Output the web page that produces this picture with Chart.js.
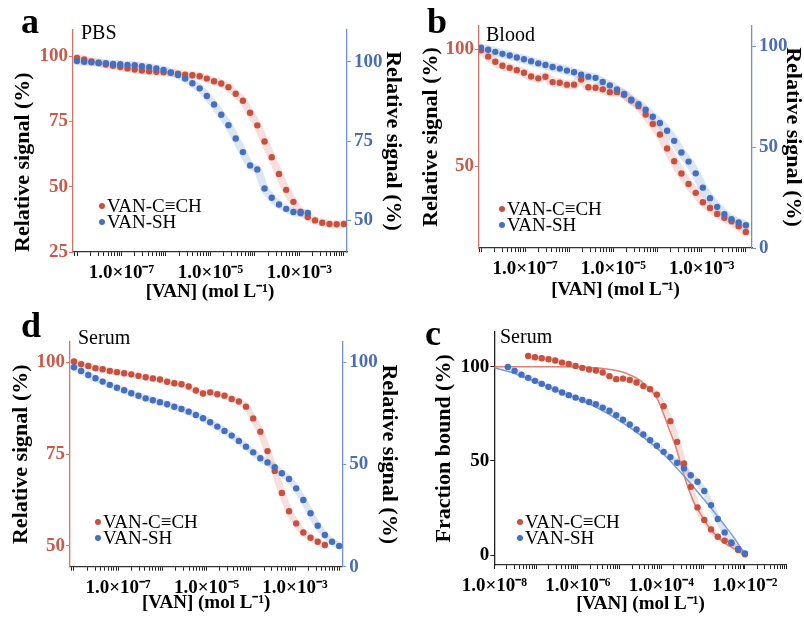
<!DOCTYPE html>
<html>
<head>
<meta charset="utf-8">
<script src="https://cdn.jsdelivr.net/npm/chart.js@4.4.0/dist/chart.umd.min.js"></script>
<style>
  body { margin: 0; background: #fff; width: 804px; height: 617px; position: relative; overflow: hidden; }
  canvas { position: absolute; }
  .t { position: absolute; font-family: "Liberation Serif", "Times New Roman", serif; line-height: 1; white-space: nowrap; color: #000; }
  .letter { font-size: 36px; font-weight: bold; }
  .medium { font-size: 20px; }
  .leg { font-size: 19px; }
  .dot { display: inline-block; width: 6px; height: 6px; border-radius: 50%; margin-right: 2px; vertical-align: 3px; }
</style>
</head>
<body>
<canvas id="chartA" width="404" height="305" style="left:0;top:0"></canvas>
<canvas id="chartB" width="404" height="305" style="left:400px;top:0"></canvas>
<canvas id="chartD" width="400" height="307" style="left:0;top:310px"></canvas>
<canvas id="chartC" width="404" height="307" style="left:400px;top:310px"></canvas>

<div class="t letter" style="left:21px;top:3px">a</div>
<div class="t letter" style="left:427px;top:3px">b</div>
<div class="t letter" style="left:21px;top:307px">d</div>
<div class="t letter" style="left:425px;top:315px">c</div>

<div class="t medium" style="left:81px;top:22px">PBS</div>
<div class="t medium" style="left:486px;top:24px">Blood</div>
<div class="t medium" style="left:78px;top:327px">Serum</div>
<div class="t medium" style="left:500px;top:326px">Serum</div>

<div id="legends"></div>

<script>
// log10 of [VAN] for the dilution series shared by all panels
const concExp = [-8.000, -7.838, -7.676, -7.514, -7.351, -7.189, -7.027, -6.865, -6.703, -6.541,
  -6.378, -6.216, -6.054, -5.892, -5.730, -5.568, -5.405, -5.243, -5.081, -4.919,
  -4.757, -4.595, -4.432, -4.270, -4.108, -3.946, -3.784, -3.622, -3.459, -3.297,
  -3.135, -2.973, -2.811, -2.649, -2.486, -2.324, -2.162, -2.000];

// a: PBS
const pbsAlkyne = [99.3, 98.7, 98.0, 97.5, 96.8, 96.3, 95.8, 95.3, 94.9, 94.5, 94.2, 94.0, 93.8, 93.6, 93.3,
  92.9, 92.7, 92.3, 91.4, 90.4, 89.5, 88.1, 85.6, 82.9, 78.3, 73.5, 67.3, 61.3, 54.9, 48.8,
  44.2, 40.4, 38.4, 37.1, 36.2, 35.7, 35.6, 35.7];
const pbsThiol = [100.2, 100.0, 99.8, 99.6, 99.5, 99.3, 99.2, 99.0, 98.9, 98.6, 98.3, 97.9, 97.4, 96.6, 95.8,
  94.7, 93.2, 91.6, 89.2, 86.5, 83.3, 80.0, 75.8, 71.5, 67.3, 66.0, 60.0, 57.1, 55.0, 53.6,
  52.6, 52.3, 52.3, null, null, null, null, null];

// b: Blood
const bloodAlkyne = [99.6, 96.9, 94.7, 93.0, 92.1, 91.1, 90.0, 88.4, 87.6, 88.3, 86.0, 85.7, 84.9, 84.9, 87.1,
  83.8, 83.6, 82.9, 81.7, 81.7, 80.6, 78.1, 75.7, 72.1, 68.1, 63.6, 57.6, 52.1, 46.9, 42.4,
  38.6, 34.6, 32.1, 29.6, 27.9, 26.4, 24.3, 21.9];
const bloodThiol = [99.2, 98.2, 97.2, 96.2, 95.4, 94.4, 93.5, 92.5, 91.5, 90.7, 89.7, 88.9, 87.9, 87.1, 85.9,
  84.9, 84.3, 82.3, 80.6, 78.5, 76.3, 73.5, 71.3, 68.5, 65.0, 61.9, 58.1, 53.1, 47.3, 42.8,
  37.0, 29.9, 24.7, 20.4, 16.8, 14.3, 12.6, 11.3];

// d: Serum, relative signal
const serumAlkyne = [100.2, 99.5, 99.0, 98.4, 98.1, 97.6, 97.3, 97.0, 96.7, 96.3, 95.9, 95.6, 95.3, 94.7, 94.3,
  94.0, 93.4, 92.3, 91.5, 91.8, 91.3, 90.9, 90.0, 89.3, 87.9, 84.7, 81.1, 75.8, 70.4, 64.4,
  59.4, 56.1, 53.6, 52.2, 51.1, 50.2, null, null];
const serumThiol = [97.5, 95.7, 93.7, 92.1, 90.5, 88.9, 87.5, 86.3, 84.8, 83.6, 82.3, 81.4, 80.4, 79.4, 78.2,
  77.1, 75.8, 74.2, 72.6, 70.6, 68.5, 66.4, 64.1, 61.5, 58.7, 55.9, 53.0, 51.0, 48.6, 45.7,
  42.9, 38.3, 32.6, 26.1, 20.0, 15.5, 12.2, 10.1];

// c: Serum, fraction bound
const boundAlkyne = [null, null, null, null, null, 105.7, 105.0, 104.5, 104.0, 103.3, 102.2, 101.5, 100.4, 99.4, 98.5,
  98.0, 96.9, 95.0, 93.4, 93.7, 93.0, 91.6, 89.7, 88.1, 85.2, 79.0, 71.1, 60.1, 48.6, 36.2,
  25.3, 18.6, 13.6, 9.7, 7.6, 6.2, 2.7, 0.4];
const boundThiol = [null, null, 99.9, 97.8, 95.8, 94.1, 92.5, 90.9, 89.3, 87.9, 86.3, 84.9, 83.6, 82.4, 81.3,
  80.1, 78.3, 76.6, 74.3, 71.8, 69.3, 66.7, 64.0, 61.0, 58.0, 54.8, 52.0, 49.0, 46.0, 42.4,
  38.9, 34.0, 26.5, 19.1, 12.0, 6.7, 3.2, 0.9];

// fitted curves in c
const fitAlkyneExp = [-8.0, -7.0, -6.0, -5.5, -5.0, -4.75, -4.5, -4.25, -4.1, -3.95, -3.8, -3.65, -3.5, -3.35, -3.2, -3.0, -2.8, -2.5, -2.2, -2.0];
const fitAlkyne = [100, 100, 99.9, 99.3, 97.6, 95.6, 92.6, 87.5, 83.0, 75.0, 66.0, 57.0, 45.5, 35.0, 27.0, 19.5, 13.0, 6.6, 2.7, 0.6];
const fitThiolExp = [-8.0, -7.5, -7.0, -6.5, -6.0, -5.5, -5.0, -4.5, -4.0, -3.5, -3.0, -2.75, -2.5, -2.25, -2.0];
const fitThiol = [99.5, 96.3, 92.0, 87.4, 83.0, 77.8, 71.3, 63.7, 54.6, 43.0, 30.0, 23.2, 16.2, 8.8, 0.5];

// axis ticks
const xLabelExpABD = [-7, -5, -3];
const xLabelExpC = [-8, -6, -4, -2];
const leftTicksA = [25, 50, 75, 100], rightTicksA = [50, 75, 100];
const leftTicksB = [50, 100], rightTicksB = [0, 50, 100];
const leftTicksD = [50, 75, 100], rightTicksD = [0, 50, 100];
const leftTicksC = [0, 50, 100];

const SERIF = '"Liberation Serif", "Times New Roman", serif';
const RED = '#c8503e', BLUE = '#4570c0';
const RED_TXT = '#c85a4a', BLUE_TXT = '#4a6db5';
const RED_AXIS = '#d27466', BLUE_AXIS = '#7090c8';
const RED_BAND = 'rgba(215,110,95,0.22)', BLUE_BAND = 'rgba(95,135,205,0.22)';
const RED_FIT = '#de8174', BLUE_FIT = '#7c9ad6';

const SUP = { '-': '\u207B', '0': '\u2070', '1': '\u00B9', '2': '\u00B2', '3': '\u00B3', '4': '\u2074',
  '5': '\u2075', '6': '\u2076', '7': '\u2077', '8': '\u2078', '9': '\u2079' };
const sup = n => String(n).split('').map(ch => SUP[ch]).join('');

function pts(vals) {
  return concExp.map((e, i) => vals[i] == null ? null : { x: Math.pow(10, e), y: vals[i] }).filter(p => p);
}
function fitPts(exps, vals) {
  return exps.map((e, i) => ({ x: Math.pow(10, e), y: vals[i] }));
}

function series(vals, axis, color, band, bw) {
  return [
    { data: pts(vals), yAxisID: axis, showLine: true, pointRadius: 0, borderWidth: bw, borderColor: band,
      borderCapStyle: 'round', tension: 0.4, order: 3 },
    { data: pts(vals), yAxisID: axis, showLine: false, pointRadius: 3.2, pointBorderWidth: 0,
      pointBackgroundColor: color, order: 1 }
  ];
}

function yAxis(o) {
  return {
    position: o.pos, min: o.min, max: o.max,
    afterFit: s => { s.width = o.width; },
    afterBuildTicks: s => { s.ticks = o.ticks.map(v => ({ value: v })); },
    ticks: { color: o.txt, padding: o.pos === 'left' ? 1 : 3, font: { family: SERIF, size: 19, weight: 'bold' } },
    grid: { drawOnChartArea: false, tickLength: 4, color: o.axis },
    border: { color: o.axis, width: 1.3 },
    title: { display: true, text: o.title, color: '#000', align: o.align || 'center',
      padding: { top: o.tpad, bottom: 0 }, font: { family: SERIF, size: 22, weight: 'bold', lineHeight: 1 } }
  };
}

function makePanel(id, o) {
  const scales = {
    x: {
      type: 'logarithmic', min: Math.pow(10, o.xExp[0]), max: Math.pow(10, o.xExp[1]),
      afterFit: s => { s.height = o.bottomH; },
      afterBuildTicks: s => {
        const t = [];
        for (let d = Math.floor(o.xExp[0]); d <= Math.ceil(o.xExp[1]); d++) {
          for (let m = 1; m <= 9; m++) {
            const v = m * Math.pow(10, d);
            if (v >= s.min && v <= s.max) t.push({ value: v });
          }
        }
        s.ticks = t;
      },
      ticks: {
        autoSkip: false, maxRotation: 0, color: '#000', padding: o.xTickPad,
        font: { family: SERIF, size: 19, weight: 'bold' },
        callback: v => {
          const e = Math.round(Math.log10(v));
          return Math.abs(Math.log10(v) - e) < 1e-6 && o.xLabels.includes(e) ? '1.0\u00D710' + sup(e) : '';
        }
      },
      grid: { drawOnChartArea: false, tickLength: 4, color: '#222' },
      border: { color: '#333', width: 1.2 },
      title: { display: true, text: '[VAN] (mol L\u207B\u00B9)', color: '#000',
        padding: { top: 0, bottom: o.xTitlePad }, font: { family: SERIF, size: 19, weight: 'bold', lineHeight: 1 } }
    },
    yL: yAxis(o.left)
  };
  if (o.right) scales.yR = yAxis(o.right);

  new Chart(document.getElementById(id), {
    type: 'scatter',
    data: { datasets: o.datasets },
    options: {
      responsive: false, animation: false, events: [],
      layout: { padding: { top: o.top, right: o.padRight || 0, left: 0, bottom: 0 } },
      plugins: { legend: { display: false }, tooltip: { enabled: false } },
      scales
    }
  });
}

makePanel('chartA', {
  xExp: [-8.09, -1.93], xLabels: xLabelExpABD, top: 30, bottomH: 53, xTickPad: 6, xTitlePad: 3,
  left: { pos: 'left', min: 25, max: 110, ticks: leftTicksA, width: 73, txt: RED_TXT, axis: RED_AXIS,
    title: 'Relative signal (%)', tpad: 12, align: 'start' },
  right: { pos: 'right', min: 40, max: 110, ticks: rightTicksA, width: 57, txt: BLUE_TXT, axis: BLUE_AXIS,
    title: 'Relative signal (%)', tpad: 0 },
  datasets: [...series(pbsThiol, 'yR', BLUE, BLUE_BAND, 8), ...series(pbsAlkyne, 'yL', RED, RED_BAND, 8)]
});

makePanel('chartB', {
  xExp: [-8.04, -1.86], xLabels: xLabelExpABD, top: 26, bottomH: 57, xTickPad: 6, xTitlePad: 5,
  left: { pos: 'left', min: 15, max: 110, ticks: leftTicksB, width: 79, txt: RED_TXT, axis: RED_AXIS,
    title: 'Relative signal (%)', tpad: 20 },
  right: { pos: 'right', min: 0, max: 110, ticks: rightTicksB, width: 52, txt: BLUE_TXT, axis: BLUE_AXIS,
    title: 'Relative signal (%)', tpad: 0 },
  datasets: [...series(bloodThiol, 'yR', BLUE, BLUE_BAND, 9), ...series(bloodAlkyne, 'yL', RED, RED_BAND, 9)]
});

makePanel('chartD', {
  xExp: [-8.09, -1.93], xLabels: xLabelExpABD, top: 31.7, bottomH: 50.3, xTickPad: 6, xTitlePad: 4,
  left: { pos: 'left', min: 44.3, max: 105.6, ticks: leftTicksD, width: 70, txt: RED_TXT, axis: RED_AXIS,
    title: 'Relative signal (%)', tpad: 10 },
  right: { pos: 'right', min: 0, max: 110, ticks: rightTicksD, width: 57.7, txt: BLUE_TXT, axis: BLUE_AXIS,
    title: 'Relative signal (%)', tpad: 0 },
  datasets: [...series(serumThiol, 'yR', BLUE, BLUE_BAND, 7), ...series(serumAlkyne, 'yL', RED, RED_BAND, 7)]
});

makePanel('chartC', {
  xExp: [-8, -1], xLabels: xLabelExpC, top: 21.7, bottomH: 52, padRight: 17.3, xTickPad: 6, xTitlePad: 3,
  left: { pos: 'left', min: -5.3, max: 118.6, ticks: leftTicksC, width: 94.3, txt: '#000', axis: '#222',
    title: 'Fraction bound (%)', tpad: 33 },
  datasets: [
    ...series(boundThiol, 'yL', BLUE, BLUE_BAND, 6),
    ...series(boundAlkyne, 'yL', RED, RED_BAND, 6),
    { data: fitPts(fitThiolExp, fitThiol), yAxisID: 'yL', showLine: true, pointRadius: 0, borderWidth: 1.5,
      borderColor: BLUE_FIT, tension: 0.4, order: 2 },
    { data: fitPts(fitAlkyneExp, fitAlkyne), yAxisID: 'yL', showLine: true, pointRadius: 0, borderWidth: 1.5,
      borderColor: RED_FIT, tension: 0.4, order: 2 }
  ]
});

// in-plot legends: [x, y of first line]
const legendPos = [[99, 196], [499, 199], [95, 512], [517, 512]];
const legendNames = ['VAN-C\u2261CH', 'VAN-SH'];
const legendColors = [RED, BLUE];
const box = document.getElementById('legends');
legendPos.forEach(([x, y]) => {
  legendNames.forEach((name, k) => {
    const d = document.createElement('div');
    d.className = 't leg';
    d.style.left = x + 'px';
    d.style.top = (y + k * 15.5) + 'px';
    d.innerHTML = `<span class="dot" style="background:${legendColors[k]}"></span>${name}`;
    box.appendChild(d);
  });
});
</script>
</body>
</html>
